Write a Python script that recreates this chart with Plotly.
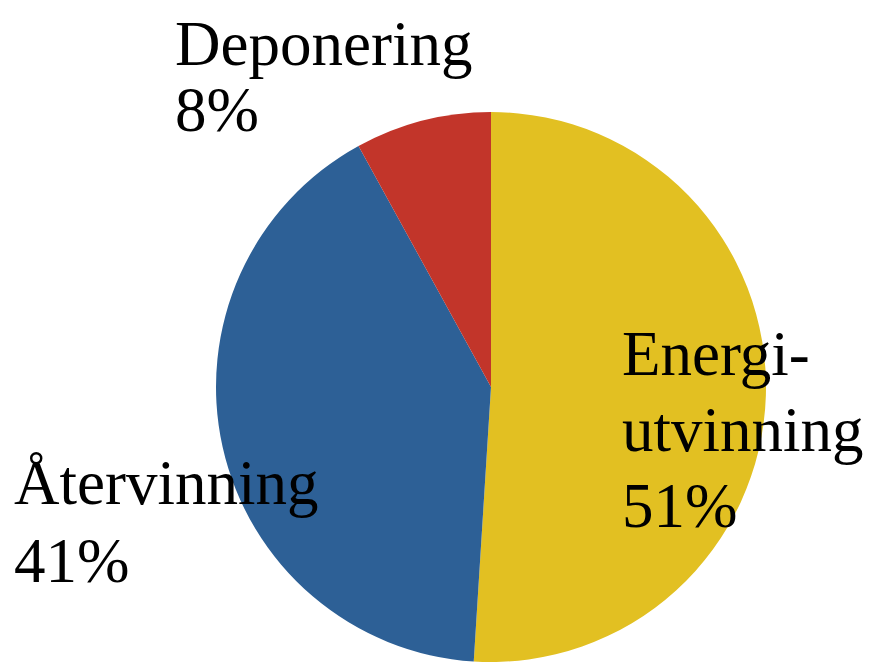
import plotly.graph_objects as go

W, H = 874, 662

labels = ["Energiutvinning", "Återvinning", "Deponering"]
values = [51, 41, 8]
colors = ["#E2C022", "#2D6096", "#C2352A"]
label_lines = [["Energi-", "utvinning"], ["Återvinning"], ["Deponering"]]

# label layout (pixels): left x, first baseline y, line gap
label_pos = [(613, 378, 76), (5, 507, 78), (166, 68, 66)]
FS = 63

# pie placement (pixels)
cx, cy, r = 483, 379, 275

fig = go.Figure(go.Pie(
    labels=labels, values=values, sort=False, direction="clockwise",
    rotation=0, marker=dict(colors=colors, line=dict(width=0)),
    textinfo="none", hoverinfo="label+percent", showlegend=False,
    domain=dict(x=[(cx - r) / W, (cx + r) / W], y=[(H - cy - r) / H, (H - cy + r) / H]),
))

total = sum(values)
annotations = []
for lines, v, (lx, by, gap) in zip(label_lines, values, label_pos):
    all_lines = lines + [f"{round(100 * v / total)}%"]
    for i, t in enumerate(all_lines):
        base = by + i * gap
        ymid = base - 0.51 * FS
        annotations.append(dict(
            text=t, x=lx / W, y=(H - ymid) / H, xref="paper", yref="paper",
            xanchor="left", yanchor="middle", showarrow=False, borderpad=0,
            font=dict(family="Liberation Serif", size=FS, color="black"),
        ))

fig.update_layout(
    width=W, height=H, margin=dict(l=0, r=0, t=0, b=0),
    paper_bgcolor="white", plot_bgcolor="white",
    annotations=annotations,
)
fig.write_html("out.html")
